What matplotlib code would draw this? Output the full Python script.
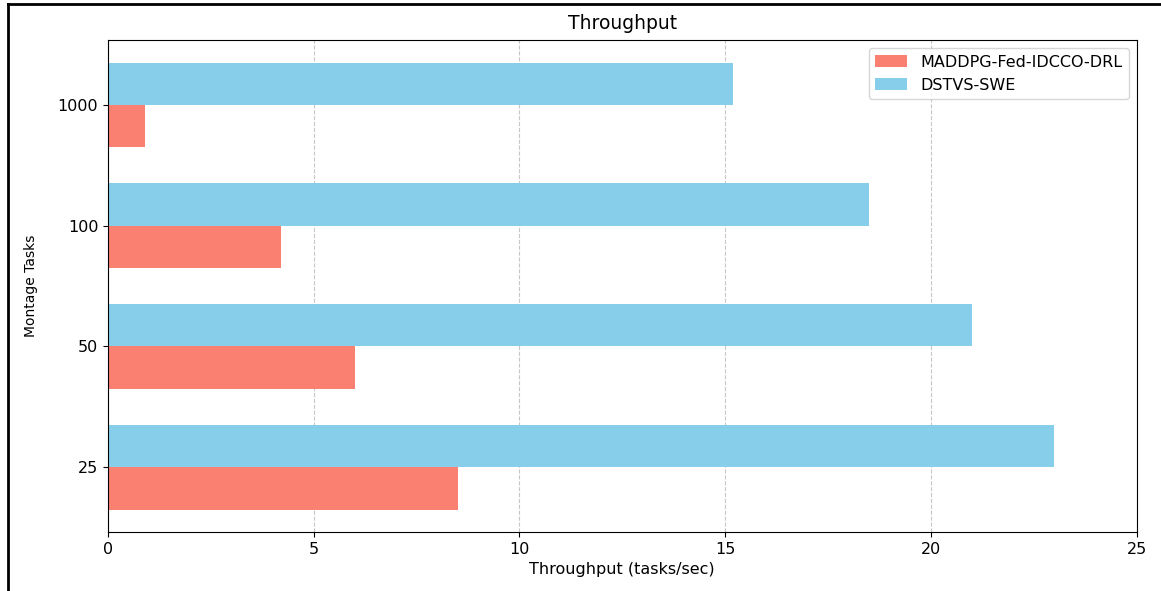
import matplotlib
matplotlib.use("Agg")
import matplotlib.pyplot as plt
from matplotlib.lines import Line2D
import numpy as np

categories = ["25", "50", "100", "1000"]
maddpg = [8.5, 6.0, 4.2, 0.9]
dstvs = [23.0, 21.0, 18.5, 15.2]

fig = plt.figure(figsize=(11.61, 5.91), dpi=100)
ax = fig.add_axes([0.093, 0.1, 0.886, 0.832])

y = np.arange(len(categories))
h = 0.35
ax.barh(y - h / 2, maddpg, h, color="salmon", label="MADDPG-Fed-IDCCO-DRL")
ax.barh(y + h / 2, dstvs, h, color="skyblue", label="DSTVS-SWE")

ax.set_yticks(y)
ax.set_yticklabels(categories, fontsize=11.5)
ax.tick_params(axis="x", labelsize=11.5)
ax.set_xlim(0, 25)
ax.set_xlabel("Throughput (tasks/sec)", fontsize=11.5)
ax.set_ylabel("Montage Tasks", fontsize=10, labelpad=14)
ax.set_title("Throughput", fontsize=13.5, pad=8)
ax.grid(axis="x", linestyle="--", alpha=0.7)
ax.set_axisbelow(True)
ax.legend(loc="upper right", fontsize=11.5)

# screenshot frame (top and left edges)
fig.add_artist(Line2D([8 / 1161, 1], [1 - 4 / 591, 1 - 4 / 591], color="black", lw=2, transform=fig.transFigure))
fig.add_artist(Line2D([8 / 1161, 8 / 1161], [0, 1 - 4 / 591], color="black", lw=2, transform=fig.transFigure))

fig.savefig("out.png", dpi=100)
